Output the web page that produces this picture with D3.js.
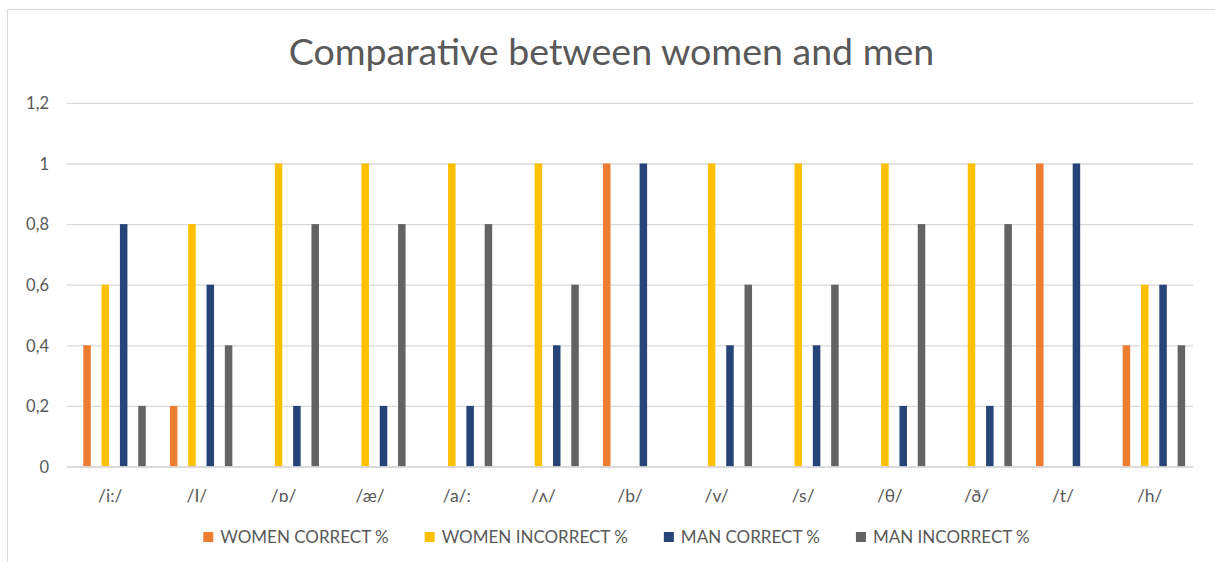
<!DOCTYPE html>
<html>
<head>
<meta charset="utf-8">
<script src="https://cdn.jsdelivr.net/npm/d3@7"></script>
<style>
  html, body { margin: 0; padding: 0; background: #fff; }
  svg { display: block; }
  text { font-family: Lato, "Open Sans", sans-serif; fill: #595959; }
</style>
</head>
<body>
<svg id="chart" width="1215" height="562"></svg>
<script>
const categories = ["/i:/", "/I/", "/ɒ/", "/æ/", "/a/:", "/ʌ/", "/b/", "/v/", "/s/", "/θ/", "/ð/", "/t/", "/h/"];
const seriesNames = ["WOMEN CORRECT %", "WOMEN INCORRECT %", "MAN CORRECT %", "MAN INCORRECT %"];
const womenCorrect   = [0.4, 0.2, 0, 0, 0, 0, 1, 0, 0, 0, 0, 1, 0.4];
const womenIncorrect = [0.6, 0.8, 1, 1, 1, 1, 0, 1, 1, 1, 1, 0, 0.6];
const manCorrect     = [0.8, 0.6, 0.2, 0.2, 0.2, 0.4, 1, 0.4, 0.4, 0.2, 0.2, 1, 0.6];
const manIncorrect   = [0.2, 0.4, 0.8, 0.8, 0.8, 0.6, 0, 0.6, 0.6, 0.8, 0.8, 0, 0.4];
const yTicks = [0, 0.2, 0.4, 0.6, 0.8, 1, 1.2];
const colors = ["#ED7D31", "#FFC000", "#264478", "#636363"];

const seriesValues = [womenCorrect, womenIncorrect, manCorrect, manIncorrect];
const data = categories.map((c, i) => ({
  cat: c,
  values: seriesNames.map((s, j) => ({ key: s, value: seriesValues[j][i] }))
}));

const svg = d3.select("#chart");
const plot = { left: 67, right: 1193, top: 102.9, bottom: 466.5 };

// chart border (cropped on right/bottom in reference)
svg.append("rect")
  .attr("x", 7.5).attr("y", 9.5)
  .attr("width", 1230).attr("height", 600)
  .attr("fill", "none").attr("stroke", "#d9d9d9").attr("stroke-width", 1);

const x0 = d3.scaleBand().domain(categories).range([plot.left, plot.right]).padding(0);
const x1 = d3.scaleBand().domain(seriesNames)
  .range([x0.bandwidth() * 0.188, x0.bandwidth() * 0.909])
  .paddingInner(0.59).paddingOuter(0);
const y = d3.scaleLinear().domain([0, 1.2]).range([plot.bottom, plot.top]);

// gridlines
const yAxis = d3.axisLeft(y).tickValues(yTicks)
  .tickSize(-(plot.right - plot.left))
  .tickFormat(d => d3.format(".1~f")(d).replace(".", ","));
const gy = svg.append("g").attr("transform", `translate(${plot.left},0)`).call(yAxis);
gy.select(".domain").remove();
gy.selectAll(".tick line").attr("stroke", "#d9d9d9").attr("stroke-width", 1.3);
gy.selectAll(".tick text")
  .attr("x", -18).attr("dy", "0.35em")
  .style("font-size", "16.5px").attr("fill", "#595959");

// bars
const groups = svg.append("g").selectAll("g").data(data).join("g")
  .attr("transform", d => `translate(${x0(d.cat)},0)`);
groups.selectAll("rect").data(d => d.values).join("rect")
  .attr("x", d => x1(d.key))
  .attr("width", x1.bandwidth())
  .attr("y", d => y(d.value))
  .attr("height", d => y(0) - y(d.value))
  .attr("fill", (d, i) => colors[i]);

// x axis
const xAxis = d3.axisBottom(x0).tickSize(0).tickPadding(0);
const gx = svg.append("g").attr("transform", `translate(0,${plot.bottom})`).call(xAxis);
gx.select(".domain").attr("stroke", "#d9d9d9").attr("stroke-width", 1.3);
gx.selectAll(".tick text").attr("y", 35).attr("dy", "0")
  .style("font-size", "17.5px").attr("fill", "#595959");

// title
svg.append("text")
  .attr("x", 611.5).attr("y", 65)
  .attr("text-anchor", "middle")
  .style("font-size", "37.5px")
  .text("Comparative between women and men");

// legend
const legend = svg.append("g");
const items = legend.selectAll("g").data(seriesNames).join("g");
items.append("rect").attr("width", 10).attr("height", 10).attr("y", -5)
  .attr("fill", (d, i) => colors[i]);
items.append("text").attr("x", 17).attr("dy", "0.35em")
  .style("font-size", "17px").text(d => d);
let cx = 0;
const positions = [];
items.each(function(d, i) {
  const w = this.querySelector("text").getComputedTextLength();
  positions.push(cx);
  cx += 17 + w + 36;
});
const total = cx - 36;
const startX = 616.5 - total / 2;
items.attr("transform", (d, i) => `translate(${startX + positions[i]},537)`);
</script>
</body>
</html>
